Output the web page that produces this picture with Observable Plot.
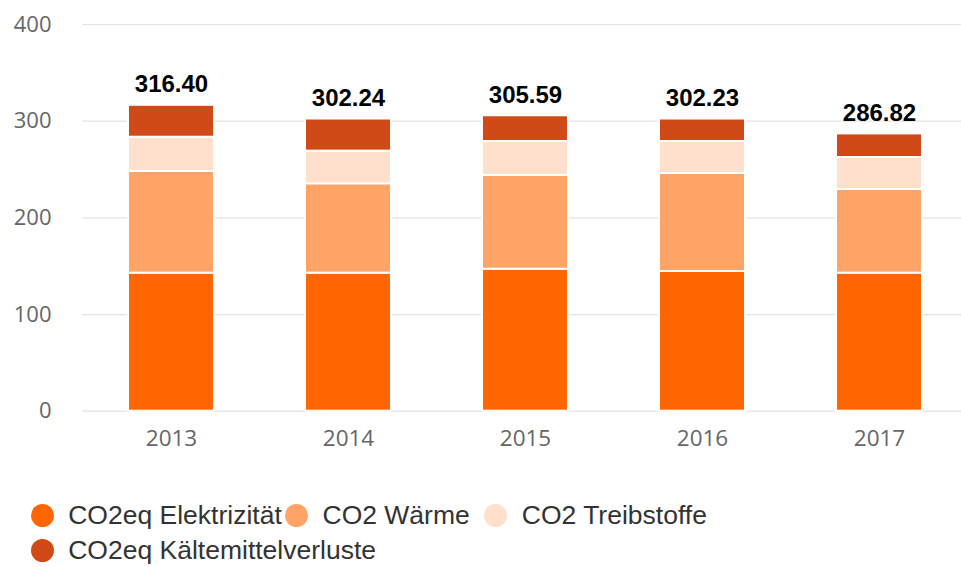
<!DOCTYPE html>
<html>
<head>
<meta charset="utf-8">
<script src="https://cdn.jsdelivr.net/npm/d3@7"></script>
<script src="https://cdn.jsdelivr.net/npm/@observablehq/plot@0.6"></script>
<style>
  html, body { margin: 0; padding: 0; background: #fff; }
  #wrap { position: relative; width: 961px; height: 567px; overflow: hidden; }
  #legend { position: absolute; left: 0; top: 470px; width: 961px; height: 97px;
    font-family: "Liberation Sans", Arial, sans-serif; font-size: 26.5px; color: #333; }
  .item { position: absolute; display: flex; align-items: center; white-space: nowrap; }
  .dot { width: 23px; height: 23px; border-radius: 50%; margin-right: 14.5px; flex: none; }
</style>
</head>
<body>
<div id="wrap">
  <div id="chart"></div>
  <div id="legend"></div>
</div>
<script>
const years = ["2013", "2014", "2015", "2016", "2017"];
const series = ["CO2eq Elektrizität", "CO2 Wärme", "CO2 Treibstoffe", "CO2eq Kältemittelverluste"];
const colors = ["#ff6600", "#ffa366", "#ffe0cc", "#d04a18"];
const elektrizitaet = [142.8, 142.8, 146.9, 144.5, 142.8];
const waerme = [105.2, 92.4, 96.9, 101.4, 86.5];
const treibstoffe = [35.4, 33.8, 35.2, 33.1, 33.1];
const kaeltemittel = [33.0, 33.24, 26.59, 23.23, 24.42];
const totalLabels = ["316.40", "302.24", "305.59", "302.23", "286.82"];
const yTicks = [0, 100, 200, 300, 400];

const seriesValues = [elektrizitaet, waerme, treibstoffe, kaeltemittel];
const data = [];
years.forEach((yr, i) => {
  series.forEach((s, j) => data.push({year: yr, series: s, value: seriesValues[j][i]}));
});
const totals = years.map((yr, i) => ({
  year: yr,
  top: d3.sum(seriesValues, v => v[i]),
  label: totalLabels[i]
}));

const chart = Plot.plot({
  width: 961,
  height: 470,
  marginLeft: 82,
  marginRight: 0,
  marginTop: 24,
  marginBottom: 59.3,
  style: {fontFamily: "'Open Sans', sans-serif", background: "#fff"},
  x: {domain: years, range: [81.25, 968.75], paddingInner: 0.5155, paddingOuter: 0.2577, label: null},
  y: {domain: [0, 400], label: null},
  color: {domain: series, range: colors},
  marks: [
    Plot.ruleY(yTicks, {stroke: "#e3e3e3", strokeWidth: 1.2}),
    Plot.barY(data, {x: "year", y: "value", fill: "series", stroke: "#fff", strokeWidth: 2}),
    Plot.text(totals, {x: "year", y: "top", text: "label", dy: -13, lineAnchor: "bottom",
      fontFamily: "'Liberation Sans', Arial, sans-serif", fontWeight: "bold", fontSize: 24, fill: "#000"}),
    Plot.axisY({ticks: yTicks, tickSize: 0, tickPadding: 31, fontSize: 22, fill: "#666", label: null}),
    Plot.axisX({tickSize: 0, tickPadding: 19, fontSize: 22.5, fill: "#666", label: null})
  ]
});
document.getElementById("chart").appendChild(chart);

const legendPos = [[30.7, 45], [285, 45], [484.3, 45], [30.7, 80.5]];
const legend = document.getElementById("legend");
series.forEach((s, i) => {
  const it = document.createElement("div");
  it.className = "item";
  it.style.left = legendPos[i][0] + "px";
  it.style.top = (legendPos[i][1] - 16) + "px";
  it.style.height = "32px";
  const dot = document.createElement("span");
  dot.className = "dot";
  dot.style.background = colors[i];
  const t = document.createElement("span");
  t.textContent = s;
  it.appendChild(dot);
  it.appendChild(t);
  legend.appendChild(it);
});
</script>
</body>
</html>
